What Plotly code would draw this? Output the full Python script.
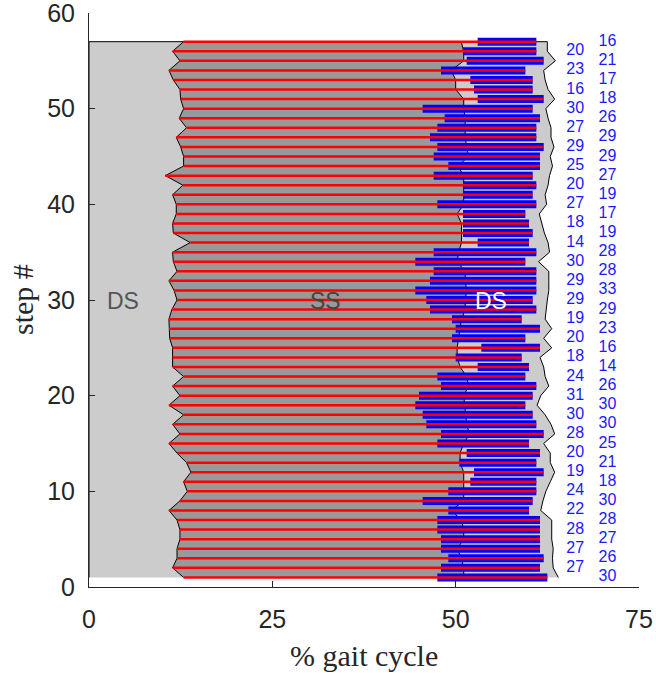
import plotly.graph_objects as go

# Step numbers (one row per step)
steps = list(range(1, 58))

# Left edge of single support (% gait cycle), step 1..57
ss_start = [12.9, 11.4, 12.0, 12.0, 12.4, 12.4, 12.0, 10.9, 12.4, 13.4,
            12.9, 13.9, 13.3, 12.0, 10.9, 12.4, 11.4, 12.9, 10.9, 12.4,
            11.4, 12.9, 11.4, 11.4, 11.4, 11.0, 10.9, 10.9, 11.3, 12.0,
            11.6, 10.9, 12.0, 11.5, 11.4, 13.8, 11.5, 11.4, 11.9, 11.9,
            11.4, 12.8, 10.4, 12.9, 12.9, 12.5, 11.9, 13.3, 12.3, 12.9,
            12.5, 12.4, 11.5, 10.9, 12.4, 11.4, 12.9]

# Right edge of single support, step 1..57
ss_end = [51.1, 51.1, 50.8, 50.2, 51.1, 51.1, 50.8, 49.4, 51.1, 51.1,
          51.1, 51.1, 50.6, 50.6, 51.1, 51.9, 51.5, 51.3, 51.2, 51.1,
          51.75, 51.5, 50.6, 50.2, 50.2, 50.4, 50.6, 50.8, 51.3, 51.3,
          51.5, 51.3, 51.3, 50.2, 50.4, 50.8, 50.8, 50.8, 50.2, 51.1,
          51.1, 51.1, 51.1, 50.3, 51.75, 51.5, 51.3, 51.3, 51.3, 51.1,
          51.1, 50.0, 50.0, 49.4, 51.1, 51.1, 50.75]

# End of the double support phase for each step
ds_end = [62.5, 61.5, 62.0, 61.5, 61.5, 61.5, 61.5, 60.0, 60.5, 61.0,
          61.0, 62.0, 61.0, 61.5, 60.0, 62.0, 61.0, 60.5, 59.5, 60.5,
          61.0, 59.5, 60.0, 59.0, 61.5, 59.5, 61.5, 59.0, 61.0, 60.5,
          61.0, 61.0, 61.0, 59.5, 61.0, 60.0, 60.5, 60.0, 59.5, 61.0,
          60.5, 61.0, 60.5, 61.5, 61.5, 62.0, 61.0, 61.0, 61.5, 60.5,
          62.0, 60.5, 60.5, 59.5, 62.0, 61.0, 61.0]

# Outer edge of the gait cycle envelope
cycle_end = [64.0, 63.3, 63.2, 63.3, 63.1, 63.1, 63.1, 61.6, 61.9, 62.3,
             62.9, 63.5, 62.9, 62.9, 62.0, 63.5, 63.0, 62.2, 61.1, 61.6,
             62.7, 62.2, 62.0, 61.5, 63.1, 62.0, 63.1, 62.2, 62.4, 62.5,
             62.7, 62.7, 62.7, 61.3, 62.8, 62.6, 62.1, 61.7, 61.4, 62.4,
             62.2, 62.6, 62.8, 63.2, 62.9, 63.4, 63.0, 63.0, 62.6, 62.3,
             63.5, 62.6, 62.2, 62.0, 63.6, 62.5, 62.5]

# Double support duration (frames), step 1..57
ds_frames = [30, 27, 26, 27, 27, 28, 28, 22, 30, 24,
             18, 19, 21, 20, 25, 28, 30, 30, 30, 31,
             26, 24, 14, 18, 16, 20, 23, 19, 29, 29,
             33, 29, 28, 30, 28, 14, 19, 18, 17, 27,
             19, 20, 27, 25, 29, 29, 29, 27, 26, 30,
             18, 16, 17, 23, 21, 20, 16]

FRAME_PCT = 0.5  # % gait cycle per frame

axis_col = "#262626"
sans = "Liberation Sans, Arial, sans-serif"
serif = "Liberation Serif, Times New Roman, serif"

fig = go.Figure()

# Whole gait-cycle envelope (light gray)
fig.add_trace(go.Scatter(
    x=[0, 0] + cycle_end[::-1],
    y=[steps[0], steps[-1]] + steps[::-1],
    fill="toself", fillcolor="#cccccc", mode="lines",
    line=dict(color="black", width=1), hoverinfo="skip", showlegend=False))

# Single support region (darker gray)
fig.add_trace(go.Scatter(
    x=ss_start + ss_end[::-1],
    y=steps + steps[::-1],
    fill="toself", fillcolor="#999999", mode="lines",
    line=dict(color="black", width=1), hoverinfo="skip", showlegend=False))

# Double support bars (blue)
bx, by = [], []
for s, e, f in zip(steps, ds_end, ds_frames):
    bx += [e - f * FRAME_PCT, e, None]
    by += [s, s, None]
fig.add_trace(go.Scatter(x=bx, y=by, mode="lines",
                         line=dict(color="#0000ff", width=8),
                         hoverinfo="skip", showlegend=False))

# Stance lines (red)
rx, ry = [], []
for s, a, e in zip(steps, ss_start, ds_end):
    rx += [a, e, None]
    ry += [s, s, None]
fig.add_trace(go.Scatter(x=rx, y=ry, mode="lines",
                         line=dict(color="#ff0000", width=2.5),
                         hoverinfo="skip", showlegend=False))

# Frame counts, alternating columns
lx = [66.3 if s % 2 == 0 else 70.7 for s in steps]
fig.add_trace(go.Scatter(x=lx, y=steps, mode="text",
                         text=[str(v) for v in ds_frames],
                         textfont=dict(family=sans, size=16, color="#1a1aff"),
                         cliponaxis=False, hoverinfo="skip", showlegend=False))

annotations = [
    dict(x=4.6, y=29.9, text="DS", font=dict(family=sans, size=23, color="#555555")),
    dict(x=32.2, y=29.9, text="SS", font=dict(family=sans, size=23, color="#444444")),
    dict(x=54.8, y=29.9, text="DS", font=dict(family=sans, size=23, color="white")),
]
for a in annotations:
    a.update(xref="x", yref="y", showarrow=False, xanchor="center", yanchor="middle")

annotations.append(dict(text="% gait cycle", xref="paper", yref="paper", x=0.5, y=0,
                        xanchor="center", yanchor="middle", yshift=-68, showarrow=False,
                        font=dict(family=serif, size=30, color=axis_col)))
annotations.append(dict(text="step #", xref="paper", yref="paper", x=0, y=0.5,
                        xanchor="center", yanchor="middle", xshift=-67, textangle=-90,
                        showarrow=False, font=dict(family=serif, size=30, color=axis_col)))

fig.update_layout(
    width=656, height=673,
    margin=dict(l=89, r=17, t=13, b=86, autoexpand=False),
    plot_bgcolor="white", paper_bgcolor="white",
    annotations=annotations,
    xaxis=dict(range=[0, 75], tickvals=[0, 25, 50, 75], ticks="inside", ticklen=6,
               tickcolor=axis_col, showline=True, linecolor=axis_col, linewidth=1,
               showgrid=False, zeroline=False, ticklabelstandoff=10, automargin=False,
               ticklabeloverflow="allow",
               tickfont=dict(family=sans, size=25, color=axis_col)),
    yaxis=dict(range=[0, 60], tickvals=[0, 10, 20, 30, 40, 50, 60], ticks="inside",
               ticklen=6, tickcolor=axis_col, showline=True, linecolor=axis_col,
               linewidth=1, showgrid=False, zeroline=False, ticklabelstandoff=8,
               automargin=False, ticklabeloverflow="allow",
               tickfont=dict(family=sans, size=25, color=axis_col)),
)

fig.write_html("out.html")
